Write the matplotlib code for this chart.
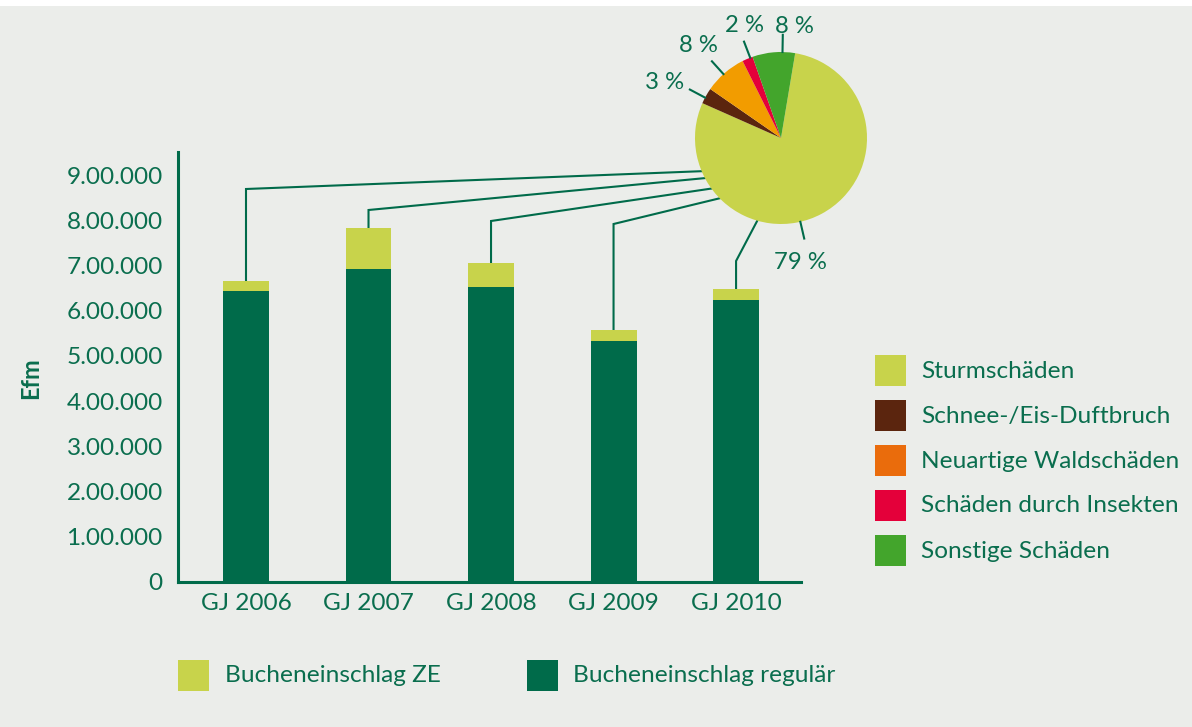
import numpy as np
import matplotlib
matplotlib.use("Agg")
import matplotlib.pyplot as plt
from matplotlib.patches import Rectangle

plt.rcParams['font.family'] = ['Lato', 'DejaVu Sans']

# Daten Buche (Efm)
jahre = ['GJ 2006', 'GJ 2007', 'GJ 2008', 'GJ 2009', 'GJ 2010']
regulaer = [644000, 692000, 653000, 533000, 624000]
ze = [22000, 91000, 53000, 25000, 24000]

yticks = [0, 100000, 200000, 300000, 400000, 500000, 600000, 700000, 800000, 900000]
ytick_labels = ['0', '1.00.000', '2.00.000', '3.00.000', '4.00.000', '5.00.000',
                '6.00.000', '7.00.000', '8.00.000', '9.00.000']

# Anteile der ZE-Ursachen (Kreis)
ursachen = ['Sturmschäden', 'Schnee-/Eis-Duftbruch', 'Neuartige Waldschäden',
            'Schäden durch Insekten', 'Sonstige Schäden']
anteile = [79, 3, 8, 2, 8]

# Farben
GRUEN = '#006B4A'
HELL = '#C8D34B'
TEXT = '#0A6E4E'
BG = '#EBEDEA'
pie_farben = [HELL, '#5B250E', '#F29C00', '#E4003A', '#43A52C']
leg_farben = [HELL, '#5B250E', '#EA6C0C', '#E4003A', '#43A52C']

FS = 17.6

W, H = 1192, 727
fig = plt.figure(figsize=(W / 100, H / 100), dpi=100, facecolor=BG)

# Overlay in Pixelkoordinaten für Linien/Legenden
ov = fig.add_axes([0, 0, 1, 1], zorder=0)
ov.set_xlim(0, W)
ov.set_ylim(H, 0)
ov.axis('off')
ov.add_patch(Rectangle((0, 0), W, 6, color='white', lw=0))

# Balken
ax = fig.add_axes([178 / W, (H - 582) / H, (801 - 178) / W, (582 - 152) / H], zorder=1)
ax.patch.set_alpha(0)
x = np.arange(len(jahre))
ax.bar(x, regulaer, width=0.375, color=GRUEN, lw=0)
ax.bar(x, ze, bottom=regulaer, width=0.375, color=HELL, lw=0)
ax.set_xlim(-0.555, 4.53)
ax.set_ylim(0, 951000)
ax.set_xticks(x)
ax.set_xticklabels(jahre)
ax.set_yticks(yticks)
ax.set_yticklabels(ytick_labels)
ax.tick_params(length=0, labelsize=FS, labelcolor=TEXT)
ax.tick_params(axis='y', pad=11)
ax.tick_params(axis='x', pad=8)
for s in ['top', 'right']:
    ax.spines[s].set_visible(False)
for s in ['left', 'bottom']:
    ax.spines[s].set_color(GRUEN)
    ax.spines[s].set_linewidth(2.2)

fig.text(31 / W, 1 - 378 / H, 'Efm', rotation=90, ha='center', va='center',
         fontsize=17, fontweight='bold', color=TEXT)

# Kreis
cx, cy, R = 781, 138, 86
axp = fig.add_axes([(cx - R) / W, (H - cy - R) / H, 2 * R / W, 2 * R / H], zorder=2)
axp.pie(anteile, colors=pie_farben, startangle=80.5, counterclock=False,
        radius=1, wedgeprops=dict(linewidth=0))
axp.set_xlim(-1, 1)
axp.set_ylim(-1, 1)

linie_winkel = [-77, 152, 132, 111, 89]
text_winkel = [-81, 154.5, 132, 108, 83]
text_r = [1.46, 1.50, 1.44, 1.37, 1.31]
for a, la, ta, tr in zip(anteile, linie_winkel, text_winkel, text_r):
    t = np.deg2rad(la)
    axp.plot([np.cos(t), 1.2 * np.cos(t)], [np.sin(t), 1.2 * np.sin(t)],
             color=GRUEN, lw=1.5, clip_on=False)
    t2 = np.deg2rad(ta)
    axp.text(tr * np.cos(t2), tr * np.sin(t2), f'{a} %', ha='center', va='center',
             fontsize=17.2, color=TEXT, clip_on=False)


def to_ov(axes, pt):
    disp = axes.transData.transform(pt)
    return ov.transData.inverted().transform(disp)


# Verbindungslinien Balken -> Kreis
knick_y = [189, 210, 221, 224, 261]
kreis_winkel = [202.7, 207.8, 216, 224.5, 254]
gesamt = [r + z for r, z in zip(regulaer, ze)]
for i, (ky, kw) in enumerate(zip(knick_y, kreis_winkel)):
    bx, by = to_ov(ax, (x[i], gesamt[i]))
    t = np.deg2rad(kw)
    px, py = to_ov(axp, (np.cos(t), np.sin(t)))
    ov.plot([bx, bx, px], [by, ky, py], color=GRUEN, lw=1.5, solid_joinstyle='miter')

# Legende rechts
for i, (name, col) in enumerate(zip(ursachen, leg_farben)):
    y0 = 355 + 45 * i
    ov.add_patch(Rectangle((875, y0), 31, 31, color=col, lw=0))
    ov.text(921, y0 + 16, name, ha='left', va='center', fontsize=FS, color=TEXT)

# Legende unten
for lx, tx, name, col in [(178, 225, 'Bucheneinschlag ZE', HELL),
                          (527, 573, 'Bucheneinschlag regulär', GRUEN)]:
    ov.add_patch(Rectangle((lx, 660), 31, 31, color=col, lw=0))
    ov.text(tx, 676, name, ha='left', va='center', fontsize=FS, color=TEXT)

fig.savefig('out.png', dpi=100, facecolor=fig.get_facecolor())
